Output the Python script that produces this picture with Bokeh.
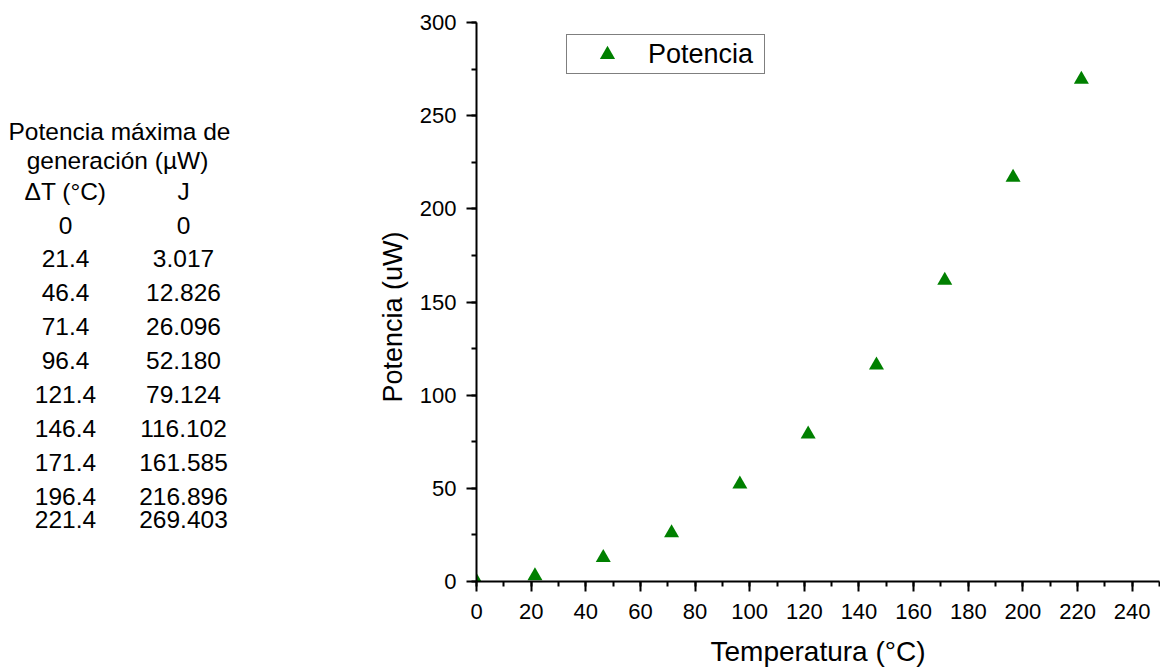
from bokeh.plotting import figure
from bokeh.layouts import row
from bokeh.models import Range1d, SingleIntervalTicker, Legend, LegendItem
from bokeh.embed import file_html
from bokeh.resources import INLINE
from bokeh.core.properties import value

# ---------------- data ----------------
delta_t = [0, 21.4, 46.4, 71.4, 96.4, 121.4, 146.4, 171.4, 196.4, 221.4]
potencia = [0, 3.017, 12.826, 26.096, 52.180, 79.124, 116.102, 161.585, 216.896, 269.403]
table_title = ["Potencia máxima de", "generación (µW)"]
col_headers = ["ΔT (°C)", "J"]
series_name = "Potencia"
x_title = "Temperatura (°C)"
y_title = "Potencia (uW)"

# ---------------- layout constants ----------------
FONT = "Liberation Sans"
H = 669
TOTAL_W = 1160
LW = 410
MW = TOTAL_W - LW
TOP, BOTTOM = 22, 87
FRAME_TOP, FRAME_BOTTOM = TOP, H - BOTTOM
GREEN = "#008000"


def fmt_t(v):
    return "0" if v == 0 else f"{v:.1f}"


def fmt_j(v):
    return "0" if v == 0 else f"{v:.3f}"


# ---------------- left panel (table + y title), data coords == page pixels ----------------
left = figure(width=LW, height=H, x_range=Range1d(0, LW),
              y_range=Range1d(FRAME_BOTTOM, FRAME_TOP),
              x_axis_type=None, y_axis_type=None, output_backend="svg",
              toolbar_location=None, min_border_left=0, min_border_right=0,
              min_border_top=TOP, min_border_bottom=BOTTOM)
left.grid.visible = False
left.outline_line_color = None

col1_x, col2_x = 65, 183
row_y = [225, 258.5, 292.5, 326.5, 360.5, 395, 429, 463, 497, 520]

tx = [119, 117, col1_x, col2_x]
ty = [131, 160, 191.5, 191.5]
tt = table_title + col_headers
for i, (t, j) in enumerate(zip(delta_t, potencia)):
    tx += [col1_x, col2_x]
    ty += [row_y[i], row_y[i]]
    tt += [fmt_t(t), fmt_j(j)]

left.text(x=tx, y=ty, text=tt, text_font=value(FONT), text_font_size="24.5px",
          text_align="center", text_baseline="middle", text_color="black")

left.text(x=[392], y=[317], text=[y_title], angle=90, angle_units="deg",
          text_font=value(FONT), text_font_size="27px",
          text_align="center", text_baseline="middle", text_color="black")

# ---------------- main chart ----------------
p = figure(width=MW, height=H, x_range=Range1d(0, 250), y_range=Range1d(0, 300),
           output_backend="svg", toolbar_location=None,
           min_border_left=476 - LW, min_border_right=TOTAL_W - 1159,
           min_border_top=TOP, min_border_bottom=BOTTOM)
p.grid.visible = False
p.outline_line_color = None

r = p.scatter(delta_t, potencia, marker="triangle", size=15,
              fill_color=GREEN, line_color=None)

p.xaxis.ticker = SingleIntervalTicker(interval=20, num_minor_ticks=2)
p.yaxis.ticker = SingleIntervalTicker(interval=50, num_minor_ticks=2)

for ax in (p.xaxis, p.yaxis):
    ax.axis_line_width = 2
    ax.axis_line_color = "black"
    ax.major_tick_out = 10
    ax.major_tick_in = 0
    ax.minor_tick_out = 5
    ax.minor_tick_in = 0
    ax.major_tick_line_width = 2
    ax.minor_tick_line_width = 2
    ax.major_tick_line_color = "black"
    ax.minor_tick_line_color = "black"
    ax.major_label_text_font = FONT
    ax.major_label_text_font_size = "22px"
    ax.major_label_text_color = "black"

p.xaxis.major_label_standoff = 12
p.yaxis.major_label_standoff = 10

p.xaxis.axis_label = x_title
p.xaxis.axis_label_text_font = FONT
p.xaxis.axis_label_text_font_size = "28px"
p.xaxis.axis_label_text_font_style = "normal"
p.xaxis.axis_label_text_color = "black"
p.xaxis.axis_label_standoff = 14

legend = Legend(items=[LegendItem(label=series_name, renderers=[r])],
                location=(90, 507), margin=0, padding=0, spacing=0,
                glyph_width=80, glyph_height=38, label_standoff=1,
                label_width=116, label_height=38,
                label_text_font=FONT, label_text_font_size="27px",
                label_text_color="black", label_text_baseline="middle",
                border_line_color="black", border_line_width=1,
                background_fill_color="white", background_fill_alpha=1)
p.add_layout(legend)

layout = row(left, p)
open("out.html", "w").write(file_html(layout, INLINE))
